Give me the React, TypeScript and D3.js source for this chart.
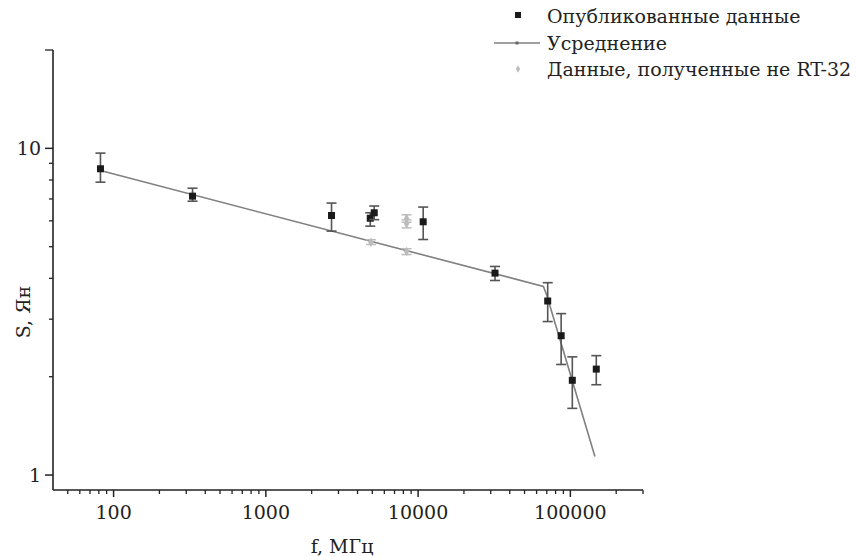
import React from 'react';
import * as d3 from 'd3';

// Published flux densities (MHz, Jy) with error bar limits
const pubFreq = [82, 330, 2700, 4850, 5150, 10800, 32000, 71000, 87000, 103000, 148000];
const pubFlux = [8.66, 7.14, 6.23, 6.11, 6.35, 5.96, 4.15, 3.41, 2.67, 1.95, 2.11];
const pubLow = [7.88, 6.89, 5.58, 5.78, 6.05, 5.26, 3.94, 2.95, 2.18, 1.6, 1.89];
const pubHigh = [9.67, 7.55, 6.8, 6.35, 6.66, 6.61, 4.35, 3.88, 3.12, 2.3, 2.32];

// Data obtained not on RT-32
const otherFreq = [4900, 8400, 8400, 8400];
const otherFlux = [5.16, 4.83, 6.1, 5.88];
const otherLow = [5.08, 4.73, 5.94, 5.71];
const otherHigh = [5.25, 4.93, 6.26, 6.04];

// Averaged spectrum
const fitFreq = [82, 66500, 70000, 145000];
const fitFlux = [8.55, 3.78, 3.55, 1.14];

const xMajor = [100, 1000, 10000, 100000];
const yMajor = [1, 10];
const legendLabels = ['Опубликованные данные', 'Усреднение', 'Данные, полученные не RT-32'];

const W = 857;
const H = 556;
const FONT = '"DejaVu Serif", serif';

const x = d3.scaleLog().domain([40, 300000]).range([53, 643]);
const y = d3.scaleLog().domain([0.9, 20]).range([490, 50]);

// minor ticks for each decade inside the domain
const xMinor: number[] = [];
for (let e = 1; e <= 5; e++) {
  for (let m = 2; m <= 9; m++) {
    const v = m * Math.pow(10, e);
    if (v > 40 && v <= 300000) xMinor.push(v);
  }
}
const yMinor = [2, 3, 4, 5, 6, 7, 8, 9, 20];

const App = () => {
  const line = d3.line<number>()
    .x((_, i) => x(fitFreq[i]))
    .y((_, i) => y(fitFlux[i]));

  const errColor = '#555';
  const grayColor = '#bcbcbc';

  return (
    <svg width={W} height={H} style={{ position: 'absolute', left: 0, top: 0, background: '#fff' }} fontFamily={FONT}>
      {/* axes */}
      <line x1={x(40)} x2={x(300000)} y1={y(0.9)} y2={y(0.9)} stroke="#222" strokeWidth={1.6} />
      <line x1={x(40)} x2={x(40)} y1={y(0.9)} y2={y(20)} stroke="#222" strokeWidth={1.6} />
      {xMajor.map(v => (
        <g key={'xm' + v}>
          <line x1={x(v)} x2={x(v)} y1={y(0.9)} y2={y(0.9) + 7} stroke="#222" strokeWidth={1.5} />
          <text x={x(v)} y={y(0.9) + 29} textAnchor="middle" fontSize={19} fill="#222">{v}</text>
        </g>
      ))}
      {xMinor.map(v => (
        <line key={'xn' + v} x1={x(v)} x2={x(v)} y1={y(0.9)} y2={y(0.9) + 4} stroke="#222" strokeWidth={1.3} />
      ))}
      {yMajor.map(v => (
        <g key={'ym' + v}>
          <line x1={x(40)} x2={x(40) - 8} y1={y(v)} y2={y(v)} stroke="#222" strokeWidth={1.5} />
          <text x={x(40) - 12} y={y(v)} dy="0.35em" textAnchor="end" fontSize={19} fill="#222">{v}</text>
        </g>
      ))}
      {yMinor.map(v => (
        <line key={'yn' + v} x1={x(40)} x2={x(40) - (v === 20 ? 8 : 4)} y1={y(v)} y2={y(v)} stroke="#222" strokeWidth={1.3} />
      ))}
      <text x={342} y={553} textAnchor="middle" fontSize={19} fill="#222">f, МГц</text>
      <text transform="translate(30,312) rotate(-90)" textAnchor="middle" fontSize={19} fill="#222">S, Ян</text>

      {/* averaged line */}
      <path d={line(fitFreq) || ''} fill="none" stroke="#808080" strokeWidth={1.6} />

      {/* other data (gray) */}
      {otherFreq.map((f, i) => (
        <g key={'o' + i} stroke={grayColor} strokeWidth={1.5}>
          <line x1={x(f)} x2={x(f)} y1={y(otherLow[i])} y2={y(otherHigh[i])} />
          <line x1={x(f) - 5} x2={x(f) + 5} y1={y(otherLow[i])} y2={y(otherLow[i])} />
          <line x1={x(f) - 5} x2={x(f) + 5} y1={y(otherHigh[i])} y2={y(otherHigh[i])} />
          <path d={d3.symbol(d3.symbolDiamond, 26)() || ''} transform={`translate(${x(f)},${y(otherFlux[i])})`} fill={grayColor} stroke="none" />
        </g>
      ))}

      {/* published data */}
      {pubFreq.map((f, i) => (
        <g key={'p' + i}>
          <g stroke={errColor} strokeWidth={1.6}>
            <line x1={x(f)} x2={x(f)} y1={y(pubLow[i])} y2={y(pubHigh[i])} />
            <line x1={x(f) - 5} x2={x(f) + 5} y1={y(pubLow[i])} y2={y(pubLow[i])} />
            <line x1={x(f) - 5} x2={x(f) + 5} y1={y(pubHigh[i])} y2={y(pubHigh[i])} />
          </g>
          <rect x={x(f) - 3.5} y={y(pubFlux[i]) - 3.5} width={7} height={7} fill="#1a1a1a" />
        </g>
      ))}

      {/* legend */}
      <g fontSize={19} fill="#222">
        <rect x={515} y={12} width={6} height={6} fill="#1a1a1a" />
        <text x={547} y={23}>{legendLabels[0]}</text>
        <line x1={494} x2={540} y1={43} y2={43} stroke="#808080" strokeWidth={1.6} />
        <rect x={515.5} y={41.5} width={3} height={3} fill="#666" />
        <text x={547} y={50}>{legendLabels[1]}</text>
        <path d={d3.symbol(d3.symbolDiamond, 16)() || ''} transform="translate(518,69)" fill={grayColor} />
        <text x={547} y={76}>{legendLabels[2]}</text>
      </g>
    </svg>
  );
};

export default App;
